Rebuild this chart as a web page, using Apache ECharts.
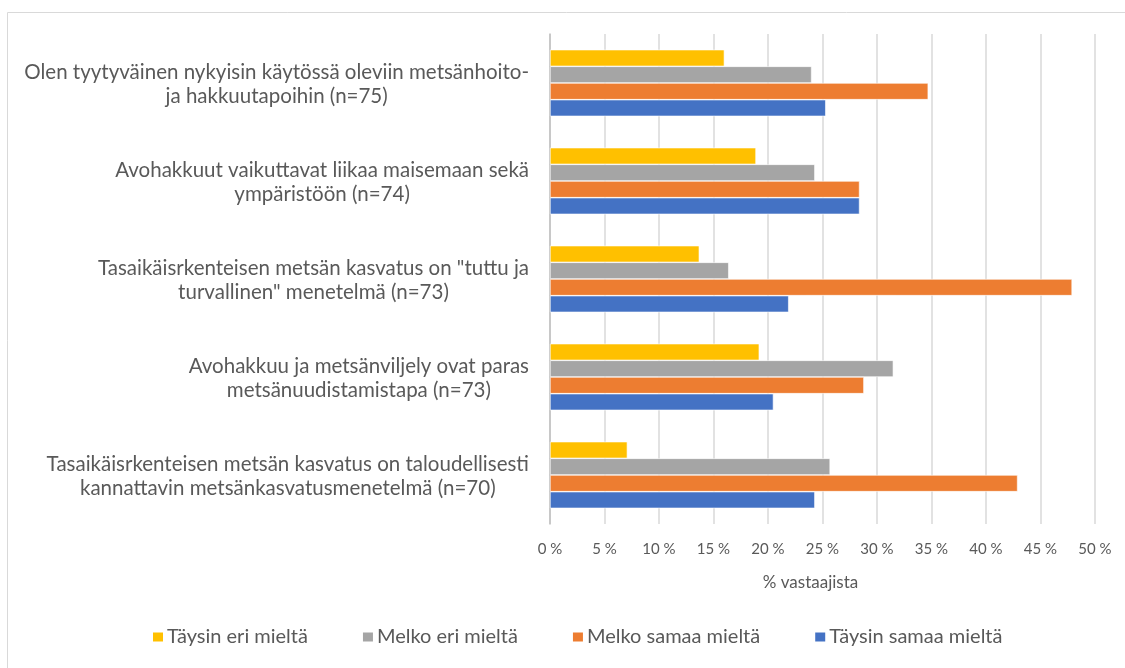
<!DOCTYPE html>
<html>
<head>
<meta charset="utf-8">
<script src="https://cdn.jsdelivr.net/npm/echarts@6/dist/echarts.min.js"></script>
<style>
	html, body { margin: 0; padding: 0; background: #fff; }
	#chart { width: 1125px; height: 668px; }
</style>
</head>
<body>
<div id="chart"></div>
<script>
	var categories = [
		'Olen tyytyväinen nykyisin käytössä oleviin metsänhoito-\nja hakkuutapoihin (n=75)',
		'Avohakkuut vaikuttavat liikaa maisemaan sekä\nympäristöön (n=74)',
		'Tasaikäisrkenteisen metsän kasvatus on "tuttu ja\nturvallinen" menetelmä (n=73)',
		'Avohakkuu ja metsänviljely ovat paras\nmetsänuudistamistapa (n=73)',
		'Tasaikäisrkenteisen metsän kasvatus on taloudellisesti\nkannattavin metsänkasvatusmenetelmä (n=70)'
	];
	var seriesNames = ['Täysin eri mieltä', 'Melko eri mieltä', 'Melko samaa mieltä', 'Täysin samaa mieltä'];
	var taysinEri = [16.0, 18.9, 13.7, 19.2, 7.1];
	var melkoEri = [24.0, 24.3, 16.4, 31.5, 25.7];
	var melkoSamaa = [34.7, 28.4, 47.9, 28.8, 42.9];
	var taysinSamaa = [25.3, 28.4, 21.9, 20.5, 24.3];
	var xTicks = [0, 5, 10, 15, 20, 25, 30, 35, 40, 45, 50];

	var colors = ['#FFC000', '#A5A5A5', '#ED7D31', '#4472C4'];
	var font = 'Lato, "Liberation Sans", sans-serif';
	var labelSize = 20.5;
	var gridLeft = 550;
	var labelMargin = 21;

	var chart = echarts.init(document.getElementById('chart'));

	var values = [taysinEri, melkoEri, melkoSamaa, taysinSamaa];
	var series = seriesNames.map(function (name, i) {
		return {
			name: name,
			type: 'bar',
			data: values[i],
			barGap: '0%',
			barCategoryGap: '32%',
			itemStyle: {
				color: colors[i],
				borderColor: '#ffffff',
				borderWidth: 0.6
			}
		};
	});

	chart.setOption({
		animation: false,
		color: colors,
		textStyle: { fontFamily: font },
		grid: {
			left: gridLeft,
			right: 30,
			top: 34,
			bottom: 144,
			outerBoundsMode: 'none'
		},
		legend: {
			bottom: 16,
			left: 146,
			itemWidth: 12,
			itemHeight: 11,
			itemGap: 53,
			icon: 'rect',
			textStyle: { color: '#595959', fontSize: 20, fontFamily: font, padding: [0, 0, 0, -2] },
			data: seriesNames
		},
		xAxis: {
			type: 'value',
			min: xTicks[0],
			max: xTicks[xTicks.length - 1],
			interval: xTicks[1] - xTicks[0],
			name: '% vastaajista',
			nameLocation: 'middle',
			nameGap: 50,
			nameTextStyle: { color: '#595959', fontSize: 17, fontFamily: font, padding: [0, 24, 0, 0] },
			axisLine: { show: false },
			axisTick: { show: false },
			axisLabel: {
				color: '#595959',
				fontSize: 15,
				margin: 18,
				formatter: '{value} %'
			},
			splitLine: { lineStyle: { color: '#d9d9d9', width: 1.5 } }
		},
		yAxis: {
			type: 'category',
			inverse: true,
			data: categories,
			axisLine: { show: true, lineStyle: { color: '#bfbfbf', width: 1.5 } },
			axisTick: { show: false },
			axisLabel: { show: false }
		},
		series: series
	});

	// category labels: lines centred, block right edge next to the axis (Excel style)
	var ctx = document.createElement('canvas').getContext('2d');
	ctx.font = labelSize + 'px ' + font;
	var graphics = [{
		type: 'rect',
		id: 'frame',
		silent: true,
		shape: { x: 7.5, y: 12.5, width: 1140, height: 680 },
		style: { fill: 'none', stroke: '#d9d9d9', lineWidth: 1 }
	}];
	categories.forEach(function (cat, i) {
		var w = 0;
		cat.split('\n').forEach(function (line) {
			w = Math.max(w, ctx.measureText(line).width);
		});
		var y = chart.convertToPixel({ yAxisIndex: 0 }, i);
		graphics.push({
			type: 'text',
			id: 'cat' + i,
			silent: true,
			x: gridLeft - labelMargin - w / 2,
			y: y + 1,
			style: {
				text: cat,
				fill: '#595959',
				fontSize: labelSize,
				fontFamily: font,
				lineHeight: 24,
				align: 'center',
				verticalAlign: 'middle'
			}
		});
	});
	chart.setOption({ graphic: graphics });
</script>
</body>
</html>
